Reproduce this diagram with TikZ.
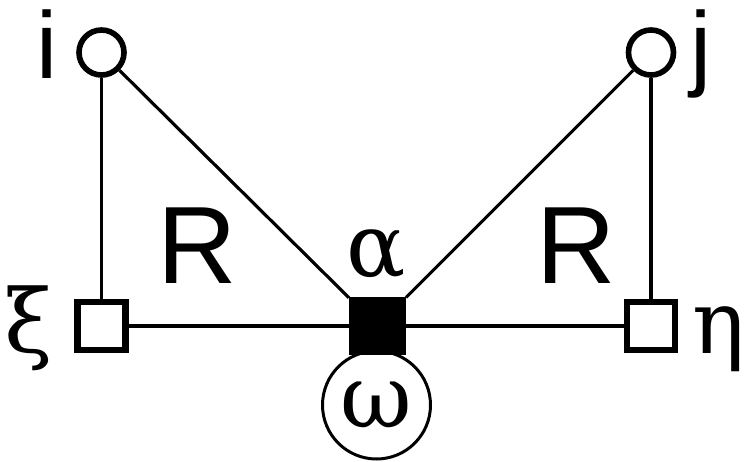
\documentclass[tikz,border=0pt]{standalone}
\usepackage{fontspec}
\setmainfont{DejaVu Serif}
\setsansfont{Liberation Sans}
\begin{document}
\begin{tikzpicture}[
  site/.style={circle, draw, line width=1.6pt, minimum size=4.5mm, inner sep=0pt},
  field/.style={rectangle, draw, line width=1.9pt, minimum size=4.8mm, inner sep=0pt},
  vertex/.style={rectangle, draw, fill=black, line width=0.9pt, minimum size=5.4mm, inner sep=0pt},
  loopnode/.style={circle, draw, line width=0.85pt, minimum size=10.8mm, inner sep=0pt},
  bond/.style={line width=0.9pt},
  latin/.style={font=\sffamily\fontsize{27}{30}\selectfont, inner sep=0pt},
  bigR/.style={font=\sffamily\fontsize{31.3}{34}\selectfont, inner sep=0pt},
  greek/.style={font=\fontsize{25}{28}\selectfont, inner sep=0pt}
]
  \useasboundingbox (0,0) rectangle (7.47,4.61);
  % sites and fields
  \node[site] (i) at (1.015,4.085) {};
  \node[site] (j) at (6.51,4.085) {};
  \node[field] (xi) at (1.015,1.35) {};
  \node[field] (eta) at (6.51,1.35) {};
  \node[vertex] (a) at (3.775,1.35) {};
  \node[loopnode, greek] (w) at (3.765,0.56) {ω};
  % labels
  \node[latin] (li) at (0.47,4.17) {i};
  \node[latin] (lj) at (7.015,4.07) {j};
  \node[bigR] (r1) at (1.975,2.155) {R};
  \node[bigR] (r2) at (5.765,2.155) {R};
  \node[greek] (lxi) at (0.29,1.33) {ξ};
  \node[greek] (lalpha) at (3.765,2.065) {α};
  \node[greek] (leta) at (7.19,1.215) {η};
  % connectors
  \draw[bond] (i) -- (xi);
  \draw[bond] (j) -- (eta);
  \draw[bond] (i) -- (a);
  \draw[bond] (j) -- (a);
  \draw[bond] (xi) -- (a);
  \draw[bond] (a) -- (eta);
\end{tikzpicture}
\end{document}
